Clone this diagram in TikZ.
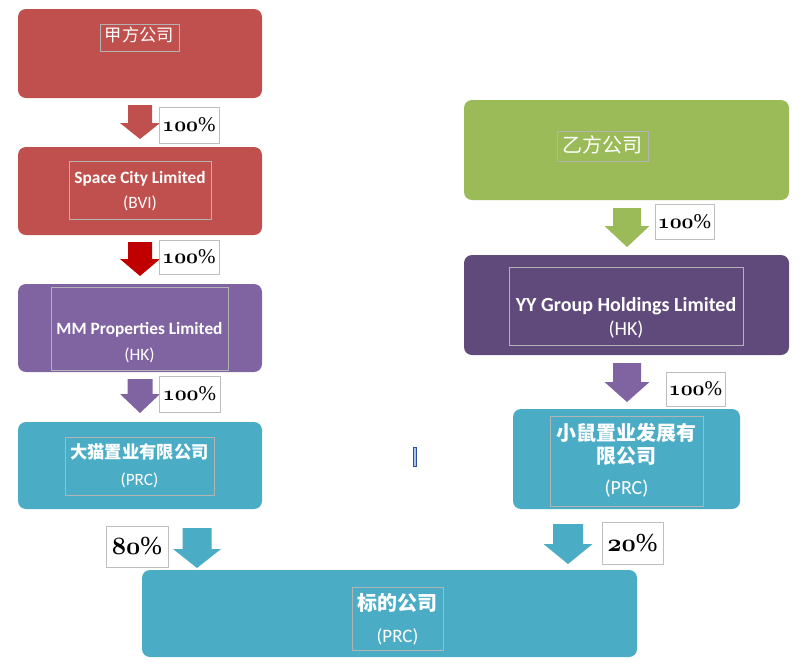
\documentclass[tikz,border=0pt]{standalone}
\usepackage{fontspec}
\setmainfont{Carlito}
\newfontfamily\cjk{Noto Sans CJK SC}
\newfontfamily\pctfont{Liberation Serif}
\newcommand\osn[1]{{\usefont{OML}{cmm}{b}{it}#1}}
\newcommand\pct[2]{\fontsize{#2}{#2}\selectfont\osn{#1}{\pctfont\%}}
\newcommand\fs[1]{\fontsize{#1}{#1}\selectfont}
\definecolor{cred}{HTML}{C0504D}
\definecolor{cdred}{HTML}{C00000}
\definecolor{cpurple}{HTML}{8064A2}
\definecolor{cdpurple}{HTML}{604A7B}
\definecolor{cgreen}{HTML}{9BBB59}
\definecolor{cteal}{HTML}{4BACC6}
\definecolor{innergray}{HTML}{B4B4B4}
\definecolor{labelgray}{HTML}{BFBFBF}
\tikzset{
  box/.style={rounded corners=8pt, inner sep=0pt, draw=none},
  inbox/.style={draw=innergray, line width=1pt, inner sep=0pt},
  pctlabel/.style={draw=labelgray, fill=white, line width=1pt, inner sep=0pt, text=black},
  txt/.style={anchor=base, inner sep=0pt, text=white},
}
\newcommand\blockarr[7]{%
  \fill[#1] (#2-#6,#3) -- (#2+#6,#3) -- (#2+#6,#4) -- (#2+#7,#4) -- (#2,#5)
    -- (#2-#7,#4) -- (#2-#6,#4) -- cycle;}
\begin{document}
\begin{tikzpicture}[x=1pt,y=-1pt]
\useasboundingbox (0,0) rectangle (810,667);
% ---------- left column boxes ----------
\node[box, fill=cred, minimum width=244pt, minimum height=89pt] (b1) at (140,53.5) {};
\node[box, fill=cred, minimum width=244pt, minimum height=88pt] (b2) at (140,191) {};
\node[box, fill=cpurple, minimum width=244pt, minimum height=88pt] (b3) at (140,328) {};
\node[box, fill=cteal, minimum width=244pt, minimum height=87pt] (b4) at (140,465.5) {};
% ---------- right column boxes ----------
\node[box, fill=cgreen, minimum width=325pt, minimum height=100pt] (bg) at (626.5,150) {};
\node[box, fill=cdpurple, minimum width=325pt, minimum height=100pt] (by) at (626.5,305) {};
\node[box, fill=cteal, minimum width=227pt, minimum height=100pt] (bs) at (626.5,459) {};
% ---------- target ----------
\node[box, fill=cteal, minimum width=495pt, minimum height=87pt] (bt) at (389.5,613.5) {};
% ---------- inner frames ----------
\node[inbox, minimum width=79pt, minimum height=27pt] (i1) at (139.5,37.5) {};
\node[inbox, minimum width=142pt, minimum height=58pt] (i2) at (140,190) {};
\node[inbox, minimum width=177pt, minimum height=83pt] (i3) at (139.5,328.5) {};
\node[inbox, minimum width=149pt, minimum height=58pt] (i4) at (139.5,466) {};
\node[inbox, minimum width=91pt, minimum height=30pt] (ig) at (602.5,146) {};
\node[inbox, minimum width=234pt, minimum height=78pt] (iy) at (626,306) {};
\node[inbox, minimum width=153pt, minimum height=90pt] (is) at (626.5,461) {};
\node[inbox, minimum width=91pt, minimum height=63pt] (it) at (397.5,618.5) {};
% ---------- texts ----------
\node[txt] (t1) at (139.5,41.6) {\fs{17.3}\cjk 甲方公司};
\node[txt] (t2a) at (140,183.5) {\fs{17.3}\bfseries Space City Limited};
\node[txt] (t2b) at (140,208.5) {\fs{17.3}(BVI)};
\node[txt] (t3a) at (139.5,334.5) {\fs{17.3}\bfseries MM Properties Limited};
\node[txt] (t3b) at (139.5,360.5) {\fs{17.3}(HK)};
\node[txt] (t4a) at (139.5,458.6) {\fs{17.3}\cjk\bfseries 大猫置业有限公司};
\node[txt] (t4b) at (139.5,485.5) {\fs{17.3}(PRC)};
\node[txt] (tg) at (602.5,152.6) {\fs{20}\cjk 乙方公司};
\node[txt] (tya) at (626,311.4) {\fs{20}\bfseries YY Group Holdings Limited};
\node[txt] (tyb) at (626,335.4) {\fs{20}(HK)};
\node[txt] (tsa) at (626,440.6) {\fs{20}\cjk\bfseries 小鼠置业发展有};
\node[txt] (tsb) at (626,463.2) {\fs{20}\cjk\bfseries 限公司};
\node[txt] (tsc) at (626.5,494.4) {\fs{20}(PRC)};
\node[txt] (tta) at (397.5,610.6) {\fs{20}\cjk\bfseries 标的公司};
\node[txt] (ttb) at (397.5,642) {\fs{19}(PRC)};
% ---------- block arrows ----------
\blockarr{cred}{140}{105}{123}{139}{12}{20}
\blockarr{cdred}{140}{242}{259}{276}{12}{20}
\blockarr{cpurple}{140}{379}{394}{413}{12.5}{20}
\blockarr{cgreen}{627}{208}{226}{247}{14}{22.5}
\blockarr{cpurple}{627}{363}{382}{402}{14}{22.5}
\blockarr{cteal}{197}{528}{549}{568}{14.5}{24}
\blockarr{cteal}{568}{524}{544}{564}{15}{24.5}
% ---------- percentage labels ----------
\node[pctlabel, minimum width=60pt, minimum height=36pt] (l1) at (189,125) {\pct{100}{21}};
\node[pctlabel, minimum width=60pt, minimum height=34pt] (l2) at (189,257) {\pct{100}{21}};
\node[pctlabel, minimum width=61pt, minimum height=36pt] (l3) at (189.5,394) {\pct{100}{21}};
\node[pctlabel, minimum width=59pt, minimum height=35pt] (lg) at (684.5,221.5) {\pct{100}{21}};
\node[pctlabel, minimum width=59pt, minimum height=34pt] (lp) at (695.5,389) {\pct{100}{21}};
\node[pctlabel, minimum width=62pt, minimum height=41pt] (l80) at (137,546.5) {\pct{80}{26}};
\node[pctlabel, minimum width=61pt, minimum height=42pt] (l20) at (632.5,543) {\pct{20}{26}};
% ---------- stray cursor mark ----------
\node[draw={rgb,255:red,47;green,79;blue,160}, fill={rgb,255:red,169;green,196;blue,240}, line width=0.8pt, inner sep=0pt, minimum width=3.5pt, minimum height=19pt] (cursor) at (415,457) {};
\end{tikzpicture}
\end{document}
